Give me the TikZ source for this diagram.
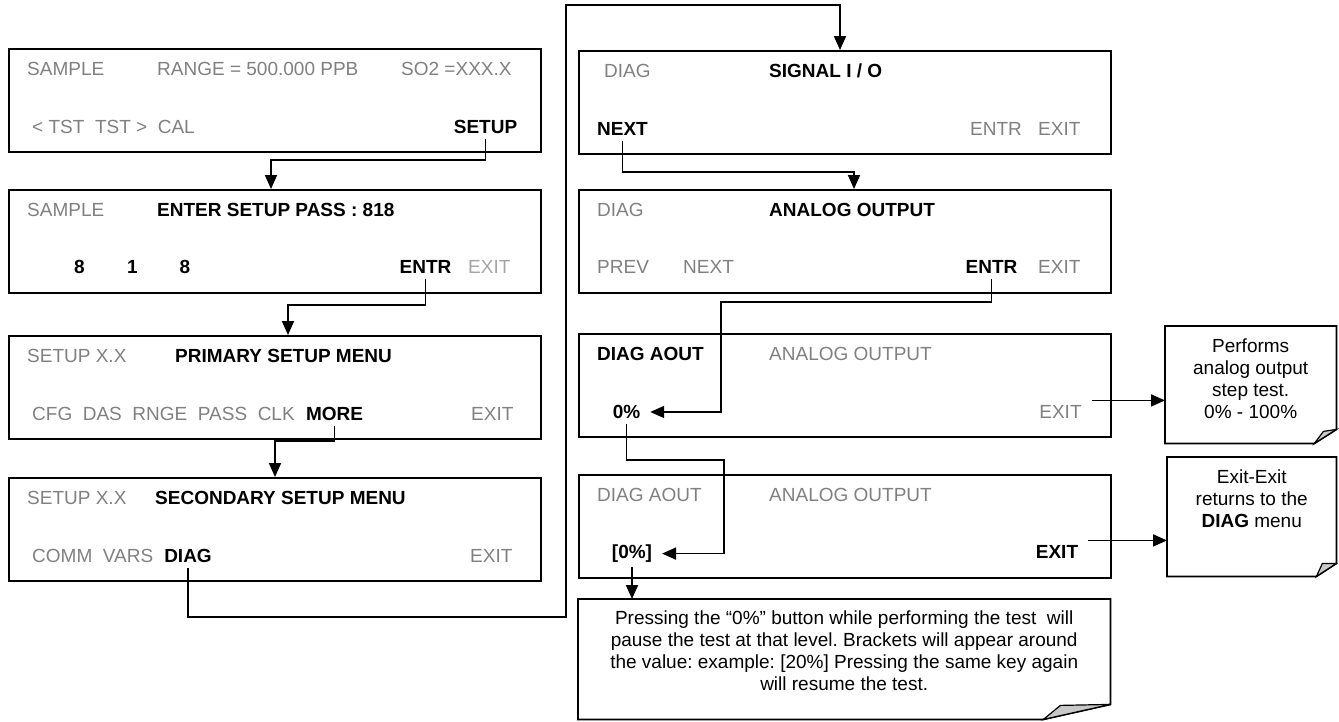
\documentclass[tikz,border=0pt]{standalone}
\usepackage{fontspec}
\setmainfont{Liberation Sans}
\usetikzlibrary{arrows.meta,positioning}
\frenchspacing

\definecolor{lcdgray}{RGB}{128,128,128}
\definecolor{lcdfaint}{RGB}{165,165,165}
\definecolor{flapgray}{RGB}{200,200,200}

\newcommand{\lcdfont}{\fontsize{19}{22}\selectfont}
\newcommand{\notefont}{\fontsize{19}{21.7}\selectfont}

% note outline with a turned-up corner: node, cut x, cut y, flap x, flap y
\newcommand{\foldnote}[5]{%
  \draw[line width=1.8pt] (#1.north west) -- (#1.north east)
    -- ([yshift=#3]#1.south east) -- ([xshift=-#2]#1.south east)
    -- (#1.south west) -- cycle;
  \draw[line width=1.2pt, fill=flapgray] ([yshift=#3]#1.south east)
    -- ([shift={(-#4,#5)}]#1.south east) -- ([xshift=-#2]#1.south east) -- cycle;
}

\begin{document}
\begin{tikzpicture}[x=1pt, y=-1pt,
    screen/.style={draw, line width=1.8pt, minimum width=532pt, minimum height=103pt,
      inner sep=0pt, anchor=north west},
    memo/.style={inner sep=0pt, anchor=north west},
    memotext/.style={inner sep=0pt, align=center, font=\notefont},
    lcd/.style={inner sep=0pt, anchor=base west, font=\lcdfont, text=lcdgray},
    lcdbold/.style={lcd, font=\lcdfont\bfseries, text=black},
    btn/.style={inner sep=0pt, outer xsep=10pt, outer ysep=5pt, anchor=base,
      font=\lcdfont\bfseries},
    flow/.style={line width=1.8pt, -{Triangle[length=14pt,width=12pt]}},
  ]
  \useasboundingbox (0,0) rectangle (1339,721);

  % --- Sample display ---
  \node[screen] (sample) at (8,48) {};
  \node[lcd] (smpA) at (27,75) {SAMPLE};
  \node[lcd] (smpRange) at (157,75) {RANGE = 500.000 PPB};
  \node[lcd] (smpConc) at (401,75) {SO2 =XXX.X};
  \node[lcd] (smpKeys) at (32,133.5) {< TST\ \ TST >\ \ CAL};
  \node[btn] (setupKey) at (485.5,133.5) {SETUP};

  % --- Password display ---
  \node[screen] (passwd) at (8,189) {};
  \node[lcd] (pwdA) at (27,216) {SAMPLE};
  \node[lcdbold] (pwdTitle) at (157,216) {ENTER SETUP PASS : 818};
  \node[lcdbold, anchor=base] (pwdD1) at (79.5,273.5) {8};
  \node[lcdbold, anchor=base] (pwdD2) at (132.5,273.5) {1};
  \node[lcdbold, anchor=base] (pwdD3) at (185,273.5) {8};
  \node[btn] (entrKey) at (425.5,273.5) {ENTR};
  \node[lcd, text=lcdfaint] (pwdExit) at (468,273.5) {EXIT};

  % --- Primary setup menu ---
  \node[screen] (primary) at (8,335) {};
  \node[lcd] (priA) at (27,362) {SETUP X.X};
  \node[lcdbold] (priTitle) at (175,362) {PRIMARY SETUP MENU};
  \node[lcd] (priKeys) at (32,420.5) {CFG\ \ DAS\ \ RNGE\ \ PASS\ \ CLK};
  \node[btn] (moreKey) at (334.5,420.5) {MORE};
  \node[lcd] (priExit) at (471,420.5) {EXIT};

  % --- Secondary setup menu ---
  \node[screen] (secondary) at (8,477) {};
  \node[lcd] (secA) at (27,504) {SETUP X.X};
  \node[lcdbold] (secTitle) at (155,504) {SECONDARY SETUP MENU};
  \node[lcd] (secKeys) at (32,562.5) {COMM\ \ VARS};
  \node[btn] (diagKey) at (188,562.5) {DIAG};
  \node[lcd] (secExit) at (470,562.5) {EXIT};

  % --- Signal I/O ---
  \node[screen] (signalio) at (578,50) {};
  \node[lcd] (sioA) at (604,77) {DIAG};
  \node[lcdbold] (sioTitle) at (769,77) {SIGNAL I / O};
  \node[btn] (nextKey) at (622.5,135.5) {NEXT};
  \node[lcd] (sioEntr) at (970,135.5) {ENTR};
  \node[lcd] (sioExit) at (1038,135.5) {EXIT};

  % --- Analog output ---
  \node[screen] (aout) at (578,189) {};
  \node[lcd] (aoA) at (597,216) {DIAG};
  \node[lcdbold] (aoTitle) at (769,216) {ANALOG OUTPUT};
  \node[lcd] (aoPrev) at (597,273.5) {PREV};
  \node[lcd] (aoNext) at (683,273.5) {NEXT};
  \node[btn] (entrAKey) at (991.5,273.5) {ENTR};
  \node[lcd] (aoExit) at (1038,273.5) {EXIT};

  % --- Step test running ---
  \node[screen] (steptest) at (578,333) {};
  \node[lcdbold] (stA) at (597,360) {DIAG AOUT};
  \node[lcd] (stTitle) at (769,360) {ANALOG OUTPUT};
  \node[btn] (pctKey) at (626.5,418.5) {0\%};
  \node[btn, font=\lcdfont, text=lcdgray] (exitStep) at (1060.5,418.5) {EXIT};

  % --- Step test paused ---
  \node[screen] (stephold) at (578,474) {};
  \node[lcd] (shA) at (597,501) {DIAG AOUT};
  \node[lcd] (shTitle) at (769,501) {ANALOG OUTPUT};
  \node[btn] (brkKey) at (632,558.5) {[0\%]};
  \node[btn] (exitHold) at (1057,558.5) {EXIT};

  % --- Notes ---
  \node[memo, minimum width=171pt, minimum height=117pt] (noteStep) at (1165,326) {};
  \node[memotext, below=13pt of noteStep.north] (noteStepTxt)
    {Performs\\analog output\\step test.\\0\% - 100\%};
  \foldnote{noteStep}{22pt}{14pt}{13pt}{12pt}

  \node[memo, minimum width=169pt, minimum height=119pt] (noteExit) at (1167,457) {};
  \node[memotext, below=13pt of noteExit.north] (noteExitTxt)
    {Exit-Exit\\returns to the\\\textbf{DIAG} menu};
  \foldnote{noteExit}{20pt}{13pt}{14pt}{13pt}

  \node[memo, minimum width=532pt, minimum height=120pt] (notePause) at (578,599) {};
  \node[memotext, below=12pt of notePause.north] (notePauseTxt)
    {Pressing the “0\%” button while performing the test\ \ will\\
     pause the test at that level. Brackets will appear around\\
     the value: example: [20\%] Pressing the same key again\\
     will resume the test.};
  \foldnote{notePause}{67pt}{15pt}{50pt}{14pt}

  % --- Connectors ---
  \coordinate (toPasswd) at (271,160);
  \coordinate (toPrimary) at (288,305);
  \coordinate (toSecondary) at (275,441);
  \coordinate (riseDiag) at (566,617);
  \coordinate (toSignal) at (840,5);
  \coordinate (toAout) at (854,172);
  \coordinate (toStep) at (721,302);
  \coordinate (toHold) at (724,460);

  \draw[flow] (setupKey.south) |- (toPasswd) -- (toPasswd |- passwd.north);
  \draw[flow] (entrKey.south) |- (toPrimary) -- (toPrimary |- primary.north);
  \draw[flow] (moreKey.south) |- (toSecondary) -- (toSecondary |- secondary.north);
  \draw[flow] (diagKey.south) |- (riseDiag) |- (toSignal) -- (toSignal |- signalio.north);
  \draw[flow] (nextKey.south) |- (toAout) -- (toAout |- aout.north);
  \draw[flow] (entrAKey.south) |- (toStep) |- (pctKey.east);
  \draw[flow] (pctKey.south) |- (toHold) |- (brkKey.east);
  \draw[flow] (brkKey.south) -- (brkKey.south |- notePause.north);
  \draw[flow] (exitStep.north east) -- (exitStep.north east -| noteStep.west);
  \draw[flow] (exitHold.north east) -- (exitHold.north east -| noteExit.west);
\end{tikzpicture}
\end{document}
